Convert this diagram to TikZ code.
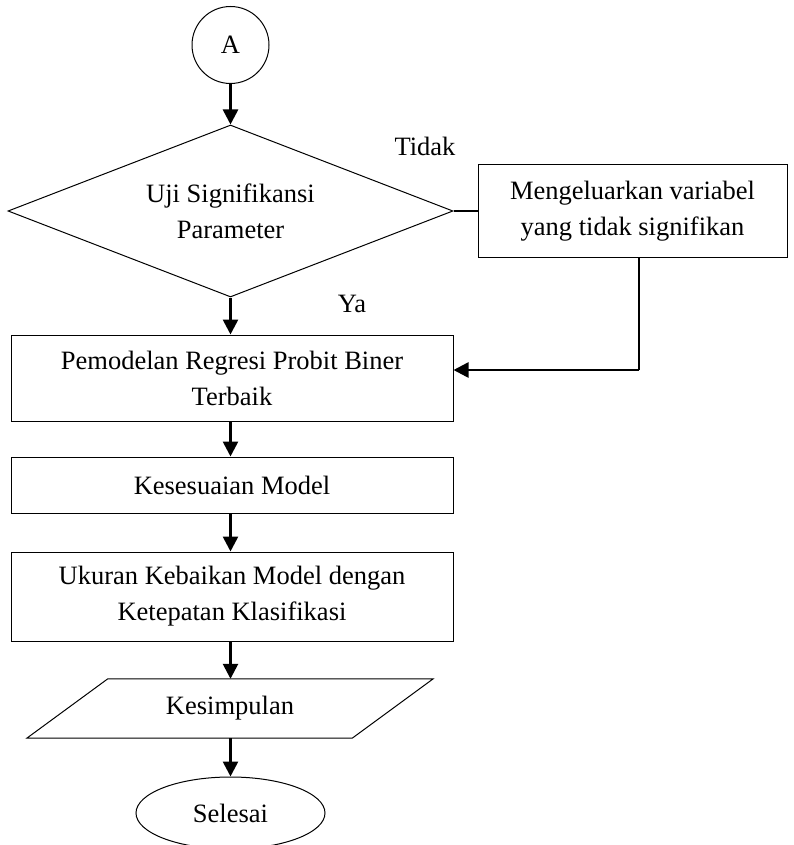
\documentclass[tikz,border=0pt]{standalone}
\usepackage{fontspec}
\setmainfont{Liberation Serif}
\usetikzlibrary{shapes.geometric,arrows.meta,calc}
\begin{document}
\begin{tikzpicture}[x=1pt,y=-1pt,
  every node/.style={font=\fontsize{26.5}{36}\selectfont, inner sep=0pt, align=center},
  box/.style={draw, line width=1pt, rectangle, minimum width=442pt},
  flow/.style={line width=2.6pt, -{Triangle[width=15pt,length=15pt]}},
  thinline/.style={line width=1.4pt}]
\useasboundingbox (0,0) rectangle (793,845);
\coordinate (spine) at (230.5,0);
\node[draw, circle, line width=1pt, minimum size=77pt] (a) at (230.5,45) {A};
\node[draw, diamond, aspect=2.587, line width=1pt, minimum width=445pt, minimum height=172pt] (dia) at (230.5,211) {Uji Signifikansi\\Parameter};
\node[box, minimum width=309pt, minimum height=92pt] (meng) at (632.5,211) {Mengeluarkan variabel\\yang tidak signifikan};
\node[box, minimum height=86pt] (pem) at (232,378) {Pemodelan Regresi Probit Biner\\Terbaik};
\node[box, minimum height=56pt] (kesm) at (232,485) {Kesesuaian Model};
\node[box, minimum height=89pt] (uk) at (232,596.5) {Ukuran Kebaikan Model dengan\\Ketepatan Klasifikasi};
\node[minimum width=325pt, minimum height=59pt] (kes) at (230,708.5) {Kesimpulan};
\draw[line width=1pt] ([xshift=40.5pt]kes.north west) -- ([xshift=40.5pt]kes.north east) -- ([xshift=-40.5pt]kes.south east) -- ([xshift=-40.5pt]kes.south west) -- cycle;
\node[draw, ellipse, line width=1pt, minimum width=189pt, minimum height=72pt] (end) at (230.5,813) {Selesai};
\node (tidak) at (425,146) {Tidak};
\node (ya) at (352,304) {Ya};
\coordinate (bend) at (639,370);
% connectors
\draw[flow] (a.south) -- (dia.north);
\draw[line width=1.6pt] (dia.east) -- (meng.west);
\draw[thinline] (meng.south -| bend) -- (bend);
\draw[flow] (bend) -- (bend -| pem.east);
\draw[flow] (dia.south) -- (spine |- pem.north);
\draw[flow] (spine |- pem.south) -- (spine |- kesm.north);
\draw[flow] (spine |- kesm.south) -- (spine |- uk.north);
\draw[flow] (spine |- uk.south) -- (spine |- kes.north);
\draw[flow] (spine |- kes.south) -- (end.north);
\end{tikzpicture}
\end{document}
